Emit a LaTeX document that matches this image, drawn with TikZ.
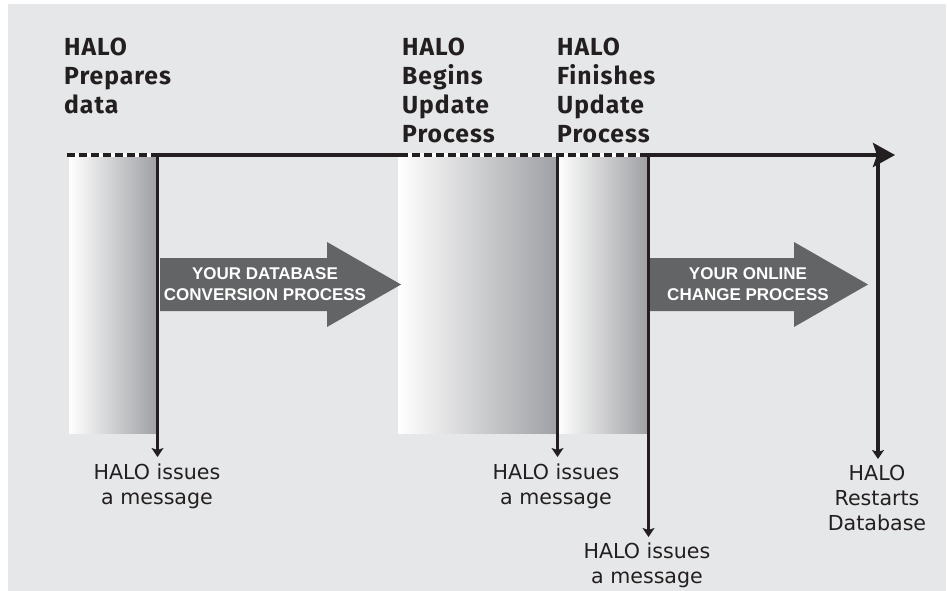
\documentclass[tikz,border=0pt]{standalone}
\usepackage{fontspec}
\usetikzlibrary{arrows.meta}
\newfontfamily\titlefont{Fira Sans}[LetterSpace=4]
\newfontfamily\labelfont{DejaVu Sans}
\newfontfamily\arrowfont{Liberation Sans}
\definecolor{bg}{HTML}{E6E7E8}
\definecolor{ink}{HTML}{231F20}
\definecolor{arrowgray}{HTML}{636466}
\definecolor{shadegray}{HTML}{9FA0A4}
\begin{document}
\begin{tikzpicture}[x=1pt,y=-1pt,
  title/.style={anchor=north west, align=left, inner sep=0pt, text=ink, font=\titlefont\bfseries\fontsize{24.7}{29}\selectfont},
  msg/.style={anchor=north, align=center, inner sep=0pt, text=ink, font=\labelfont\fontsize{20.6}{25}\selectfont},
  bigtext/.style={align=center, inner sep=0pt, text=white, font=\arrowfont\bfseries\fontsize{17}{21}\selectfont},
  bigarrow/.style={fill=arrowgray},
  band/.style={left color=white, right color=shadegray},
  tl/.style={line width=4pt, draw=ink},
  tlback/.style={line width=4pt, draw=white},
  tldash/.style={line width=4pt, draw=ink, dash pattern=on 8pt off 4pt},
  drop/.style={line width=3.5pt, draw=ink, -{Stealth[length=9pt,width=12pt,inset=2pt]}},
]
\useasboundingbox (0,0) rectangle (947,591);
\fill[white] (0,0) rectangle (947,591);
\fill[bg] (8,4) rectangle (946,591);

% shaded bands
\shade[band] (69,157) rectangle (157,433);
\shade[band] (398,157) rectangle (557,433);
\shade[band] (557,157) rectangle (648,433);

% big process arrows
\fill[bigarrow] (160,258) -- (327,258) -- (327,242) -- (401,284.5) -- (327,327) -- (327,311) -- (160,311) -- cycle;
\node[bigtext] (conv) at (265,284.5) {YOUR DATABASE\\CONVERSION PROCESS};
\fill[bigarrow] (649,258) -- (794,258) -- (794,242) -- (868,284.5) -- (794,327) -- (794,311) -- (649,311) -- cycle;
\node[bigtext] (online) at (748,284.5) {YOUR ONLINE\\CHANGE PROCESS};

% timeline
\coordinate (t0) at (67,155);
\coordinate (t1) at (157,155);
\coordinate (t2) at (400,155);
\coordinate (t3) at (648,155);
\coordinate (tend) at (895,155);
\draw[tlback] (t0) -- (t1);
\draw[tldash] (t0) -- (t1);
\draw[tl] (t1) -- (t2);
\draw[tlback] (t2) -- (t3);
\draw[tldash] (t2) -- (t3);
\draw[tl, -{Stealth[length=22pt,width=24pt,inset=4pt]}] (t3) -- (tend);

% titles
\node[title] (p1) at (64,38) {HALO\\Prepares\\data};
\node[title] (p2) at (402,38) {HALO\\Begins\\Update\\Process};
\node[title] (p3) at (557,38) {HALO\\Finishes\\Update\\Process};

% messages
\node[msg] (m1) at (157,464) {HALO issues\\a message};
\node[msg] (m2) at (556,464) {HALO issues\\a message};
\node[msg] (m3) at (647,543) {HALO issues\\a message};
\node[msg] (m4) at (877,465) {HALO\\Restarts\\Database};

% drop arrows
\coordinate (d1s) at (157.5,153);
\coordinate (d1e) at (157.5,457);
\coordinate (d2s) at (557.5,157);
\coordinate (d2e) at (557.5,457);
\coordinate (d3s) at (648.5,153);
\coordinate (d3e) at (648.5,537);
\coordinate (d4s) at (878,160);
\coordinate (d4e) at (878,459);
\draw[drop] (d1s) -- (d1e);
\draw[drop] (d2s) -- (d2e);
\draw[drop] (d3s) -- (d3e);
\draw[drop] (d4s) -- (d4e);
\end{tikzpicture}
\end{document}
